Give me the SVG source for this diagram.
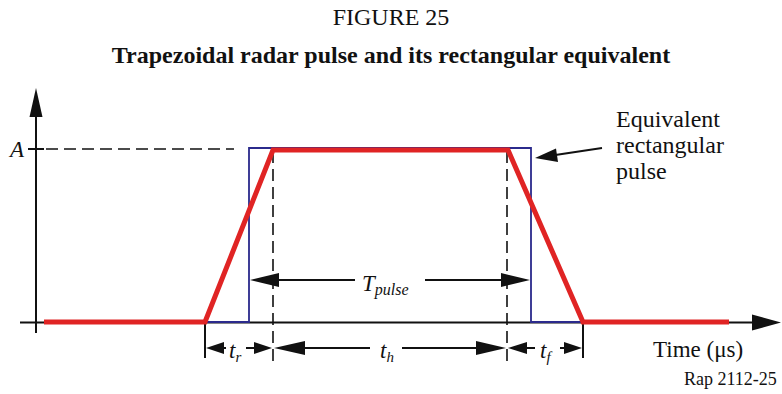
<svg xmlns="http://www.w3.org/2000/svg" width="782" height="394" viewBox="0 0 782 394">
<style>
  .t { font-family: "Liberation Serif", "Times New Roman", serif; fill: #111; }
  .ax { stroke: #111; stroke-width: 2; fill: none; }
  .dash { stroke: #111; stroke-width: 1.6; stroke-dasharray: 12 6; fill: none; }
  .dim { stroke: #111; stroke-width: 2; fill: none; }
  .ah { fill: #111; stroke: none; }
  .blue { stroke: #2b2a8c; stroke-width: 1.8; fill: none; }
  .red { stroke: #e02424; stroke-width: 5; fill: none; stroke-linejoin: miter; }
</style>
<rect width="782" height="394" fill="#fff"/>
<text class="t" x="391" y="25" font-size="24" text-anchor="middle">FIGURE 25</text>
<text class="t" x="391" y="63" font-size="24" font-weight="bold" text-anchor="middle">Trapezoidal radar pulse and its rectangular equivalent</text>

<g id="axes">
  <line class="ax" x1="36" y1="112" x2="36" y2="333"/>
  <polygon class="ah" points="36,88 29.5,117 42.5,117"/>
  <line class="ax" x1="20" y1="322.5" x2="756" y2="322.5"/>
  <polygon class="ah" points="781,322.5 752,314.5 752,330.5"/>
  <line class="ax" x1="28" y1="149" x2="44" y2="149"/>
  <text class="t" x="10" y="157" font-size="23" font-style="italic">A</text>
</g>

<g id="guides">
  <line class="dash" x1="46" y1="149" x2="234" y2="149"/>
  <line class="dash" x1="273" y1="151" x2="273" y2="362"/>
  <line class="dash" x1="507" y1="151" x2="507" y2="362"/>
  <line class="ax" x1="205" y1="322" x2="205" y2="358"/>
  <line class="ax" x1="583" y1="322" x2="583" y2="358"/>
</g>

<g id="rect-pulse">
  <polyline class="blue" points="44,322 249,322 249,148 531,148 531,322 729,322"/>
</g>

<g id="trap-pulse">
  <polyline class="red" points="44,322 205,322 273,150 508,150 583,322 729,322"/>
</g>

<g id="connectors">
  <!-- T pulse -->
  <line class="dim" x1="276" y1="280" x2="355" y2="280"/>
  <polygon class="ah" points="250,280 279,273 279,287"/>
  <line class="dim" x1="425" y1="280" x2="504" y2="280"/>
  <polygon class="ah" points="530,280 501,273 501,287"/>
  <!-- t_r -->
  <polygon class="ah" points="206,348 224,342 224,354"/>
  <line class="dim" x1="222" y1="348" x2="226" y2="348"/>
  <line class="dim" x1="246" y1="348" x2="256" y2="348"/>
  <polygon class="ah" points="272,348 254,342 254,354"/>
  <!-- t_h -->
  <polygon class="ah" points="274,348 305,341 305,355"/>
  <line class="dim" x1="303" y1="348" x2="370" y2="348"/>
  <line class="dim" x1="402" y1="348" x2="478" y2="348"/>
  <polygon class="ah" points="506,348 476,341 476,355"/>
  <!-- t_f -->
  <polygon class="ah" points="508,348 527,342 527,354"/>
  <line class="dim" x1="525" y1="348" x2="535" y2="348"/>
  <line class="dim" x1="560" y1="348" x2="567" y2="348"/>
  <polygon class="ah" points="582,348 564,342 564,354"/>
  <!-- label arrow -->
  <line class="dim" x1="602" y1="148" x2="552" y2="155.5"/>
  <polygon class="ah" points="535,158 556,148.5 558,162"/>
</g>

<g id="labels">
  <text class="t" x="362" y="291" font-size="23" font-style="italic">T<tspan font-size="16" dy="4">pulse</tspan></text>
  <text class="t" x="229" y="358" font-size="23" font-style="italic">t<tspan font-size="15" dy="4">r</tspan></text>
  <text class="t" x="380" y="358" font-size="23" font-style="italic">t<tspan font-size="15" dy="4">h</tspan></text>
  <text class="t" x="540" y="358" font-size="23" font-style="italic">t<tspan font-size="15" dy="4">f</tspan></text>
  <text class="t" x="616" y="127" font-size="24">Equivalent</text>
  <text class="t" x="616" y="153" font-size="24">rectangular</text>
  <text class="t" x="616" y="179" font-size="24">pulse</text>
  <text class="t" x="653" y="357" font-size="23">Time (μs)</text>
  <text class="t" x="684" y="385" font-size="18">Rap 2112-25</text>
</g>
</svg>
